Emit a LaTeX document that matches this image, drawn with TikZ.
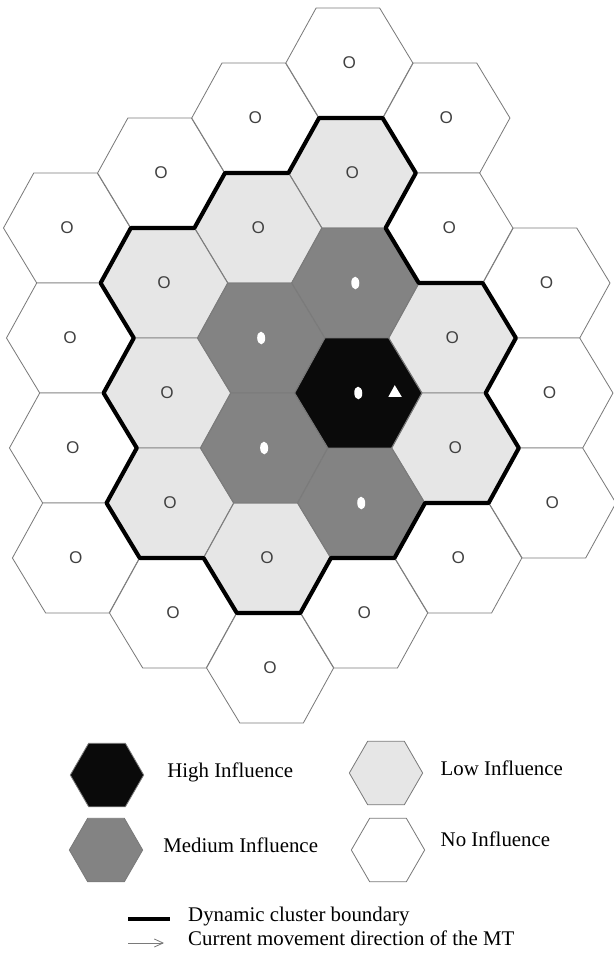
\documentclass[tikz,border=0pt]{standalone}
\usepackage{fontspec}
\setmainfont{Liberation Serif}
\newfontfamily\cellfont{Liberation Sans}
\usetikzlibrary{arrows.meta,positioning,shapes.geometric}
\definecolor{HighFill}{HTML}{0A0A0A}
\definecolor{MedFill}{HTML}{838383}
\definecolor{LowFill}{HTML}{E6E6E6}
\definecolor{EdgeGray}{HTML}{7A7A7A}
\definecolor{MarkGray}{HTML}{404040}

\begin{document}
\begin{tikzpicture}[
  x=0.03cm,y=-0.03cm,
  cell/.style={regular polygon,regular polygon sides=6,minimum size=3.81cm,inner sep=0pt,outer sep=0pt,draw=EdgeGray,line width=0.7pt,font=\cellfont\fontsize{14.5}{14.5}\selectfont,text=MarkGray},
  nocell/.style={cell,fill=white},
  lowcell/.style={cell,fill=LowFill},
  medcell/.style={cell,fill=MedFill},
  highcell/.style={cell,fill=HighFill},
  dot/.style={ellipse,fill=white,minimum width=0.24cm,minimum height=0.38cm,inner sep=0pt},
  mt/.style={regular polygon,regular polygon sides=3,fill=white,minimum size=0.47cm,inner sep=0pt},
  boundary/.style={line width=3.5pt,line join=round},
  keyhex/.style={regular polygon,regular polygon sides=6,minimum size=2.2cm,inner sep=0pt,draw=EdgeGray,line width=0.7pt},
  keytext/.style={font=\fontsize{17.8}{20}\selectfont,inner sep=0pt},
  movearrow/.style={-{Straight Barb[length=2.6mm,width=2.4mm]},EdgeGray,line width=0.7pt}
]
\useasboundingbox (0,0) rectangle (613,957);

\begin{scope}[xslant=-0.027,transform shape]
\foreach \col/\row in {0/-3,0/-1,0/1,0/3,1/-4,1/4,2/-5,2/5,3/-6,3/4,4/-5,4/-3,4/3,5/-2,5/0,5/2}
  \node[nocell] (c\col r\row) at ({60.85+95.6*\col},{393+55*\row}) {O};
\foreach \col/\row in {3/-4,2/-3,1/-2,1/0,1/2,2/3,4/-1,4/1}
  \node[lowcell] (c\col r\row) at ({60.85+95.6*\col},{393+55*\row}) {O};
\foreach \col/\row in {3/-2,2/-1,2/1,3/2}{
  \node[medcell] (c\col r\row) at ({60.85+95.6*\col},{393+55*\row}) {};
  \node[dot] (d\col r\row) at (c\col r\row) {};
}
\node[highcell] (c3r0) at ({60.85+95.6*3},393) {};
\node[dot] (d3r0) at (c3r0) {};
\node[mt,right=0.83cm of d3r0] (mt) {};

\draw[boundary] (c3r-4.120) -- (c3r-4.60) -- (c3r-4.0) -- (c3r-4.300) -- (c3r-2.0)
  -- (c4r-1.60) -- (c4r-1.0) -- (c4r-1.300) -- (c4r1.0) -- (c4r1.300) -- (c4r1.240)
  -- (c3r2.300) -- (c3r2.240) -- (c2r3.300) -- (c2r3.240) -- (c2r3.180)
  -- (c1r2.240) -- (c1r2.180) -- (c1r2.120) -- (c1r0.180) -- (c1r0.120)
  -- (c1r-2.180) -- (c1r-2.120) -- (c1r-2.60) -- (c2r-3.120) -- (c2r-3.60) -- cycle;
\end{scope}

\node[keyhex,fill=HighFill] (khigh) at (107,775) {};
\node[keyhex,fill=MedFill] (kmed) at (106,850) {};
\node[keyhex,fill=LowFill] (klow) at (386,773) {};
\node[keyhex,fill=white] (knone) at (388,850) {};
\node[keytext,right=0.69cm of khigh,anchor=mid west] (thigh) {High Influence};
\node[keytext,right=0.6cm of kmed,anchor=mid west] (tmed) {Medium Influence};
\node[keytext,right=0.52cm of klow,anchor=mid west] (tlow) {Low Influence};
\node[keytext,right=0.46cm of knone,anchor=mid west,yshift=0.18cm] (tnone) {No Influence};

\coordinate (bstart) at (128,919);
\coordinate (bend) at (170,919);
\draw[boundary] (bstart) -- (bend);
\node[keytext,right=0.54cm of bend,anchor=mid west] (tbound) {Dynamic cluster boundary};
\coordinate (astart) at (128,943);
\coordinate (aend) at (164,943);
\draw[movearrow] (astart) -- (aend);
\node[keytext,right=0.72cm of aend,anchor=mid west] (tmove) {Current movement direction of the MT};
\end{tikzpicture}
\end{document}
